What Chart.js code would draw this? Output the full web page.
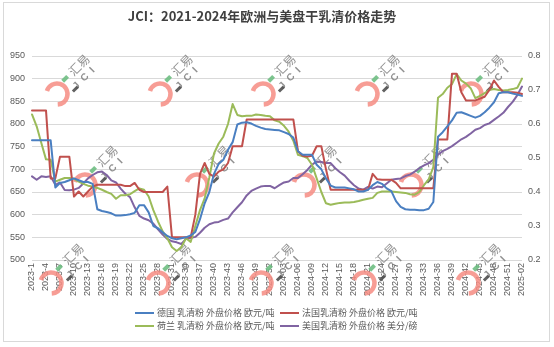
<!DOCTYPE html>
<html><head><meta charset="utf-8">
<script src="https://cdn.jsdelivr.net/npm/chart.js@4/dist/chart.umd.min.js"></script>
<style>
html,body{margin:0;padding:0;background:#fff;}
#wrap{position:relative;width:554px;height:347px;overflow:hidden;}
#frame{position:absolute;left:3px;top:2px;width:545px;height:338px;border:1px solid #d9d9d9;pointer-events:none;}
canvas{position:absolute;left:0;top:0;}
</style></head><body>
<div id="wrap"><canvas id="c" width="554" height="347"></canvas><div id="frame"></div></div>
<script>
const titleText = 'JCI：2021-2024年欧洲与美盘干乳清价格走势';
const categories = [
"2023-1","2023-2","2023-3","2023-4","2023-5","2023-6","2023-7","2023-8","2023-9","2023-10",
"2023-11","2023-12","2023-13","2023-14","2023-15","2023-16","2023-17","2023-18","2023-19","2023-20",
"2023-21","2023-22","2023-23","2023-24","2023-25","2023-26","2023-27","2023-28","2023-29","2023-30",
"2023-31","2023-32","2023-33","2023-34","2023-35","2023-36","2023-37","2023-38","2023-39","2023-40",
"2023-41","2023-42","2023-43","2023-44","2023-45","2023-46","2023-47","2023-48","2023-49","2023-50",
"2023-51","2023-52","2024-01","2024-02","2024-03","2024-04","2024-05","2024-06","2024-07","2024-08",
"2024-09","2024-10","2024-11","2024-12","2024-13","2024-14","2024-15","2024-16","2024-17","2024-18",
"2024-19","2024-20","2024-21","2024-22","2024-23","2024-24","2024-25","2024-26","2024-27","2024-28",
"2024-29","2024-30","2024-31","2024-32","2024-33","2024-34","2024-35","2024-36","2024-37","2024-38",
"2024-39","2024-40","2024-41","2024-42","2024-43","2024-44","2024-45","2024-46","2024-47","2024-48",
"2024-49","2024-50","2024-51","2024-52","2025-01","2025-02"];
const seriesNames = ['德国 乳清粉 外盘价格 欧元/吨','法国乳清粉 外盘价格 欧元/吨','荷兰 乳清粉 外盘价格 欧元/吨','美国乳清粉 外盘价格 美分/磅'];
const germany = [764,764,764,764,764, 660,670,672,676,680, 676,672,672,668,612, 608,606,603,598,598,
 599,601,604,621,621, 605,575,570,561,553, 548,546,548,550,554, 562,590,625,650,690,
 712,721,743,760,799, 803,804,801,796,792, 789,788,787,786,782, 778,770,740,732,732,
 732,710,700,680,664, 660,660,660,658,656, 651,651,655,665,672, 668,658,652,630,617,
 612,611,611,610,610, 613,628,772,782,795, 808,825,826,822,818, 814,818,826,836,848,
 868,870,870,867,865, 862];
const france = [830,830,830,830,680, 680,728,728,728,640, 651,640,651,662,666, 666,666,666,666,666,
 663,663,670,655,650, 650,650,650,650,662, 550,550,550,550,550, 600,690,714,690,684,
 695,700,714,751,751, 751,810,810,810,810, 810,810,810,810,810, 810,810,740,730,728,
 730,751,751,700,655, 655,655,655,655,655, 655,655,655,690,678, 677,677,677,670,658,
 658,658,658,658,658, 658,658,766,766,766, 911,911,870,852,852, 852,856,860,875,896,
 882,870,870,870,869, 866];
const netherlands = [821,795,758,722,721, 673,677,681,681,679, 673,668,664,662,659, 655,650,646,635,643,
 643,645,652,658,655, 640,610,585,563,548, 528,520,528,548,540, 575,610,636,682,735,
 757,772,800,844,820, 817,818,818,821,820, 818,817,808,805,796, 783,763,732,729,725,
 710,680,650,625,622, 624,626,627,627,628, 630,633,635,637,648, 651,651,651,650,649,
 648,645,644,650,665, 678,705,858,866,880, 888,910,896,889,879, 857,862,868,875,877,
 875,874,875,877,880, 900];
const usa = [0.446,0.436,0.446,0.444,0.446, 0.421,0.428,0.406,0.405,0.407, 0.412,0.425,0.44,0.45,0.458,
 0.46,0.45,0.434,0.428,0.41, 0.395,0.385,0.355,0.33,0.322, 0.317,0.307,0.29,0.275,0.262,
 0.255,0.252,0.247,0.262,0.265, 0.268,0.28,0.295,0.305,0.31, 0.312,0.318,0.322,0.34,0.355,
 0.37,0.39,0.403,0.41,0.416, 0.418,0.418,0.411,0.42,0.428, 0.431,0.441,0.441,0.452,0.465,
 0.48,0.49,0.488,0.485,0.485, 0.47,0.458,0.448,0.433,0.42, 0.41,0.407,0.415,0.41,0.416,
 0.414,0.425,0.436,0.438,0.44, 0.447,0.451,0.46,0.47,0.478, 0.485,0.495,0.51,0.52,0.527,
 0.535,0.545,0.555,0.562,0.572, 0.583,0.588,0.597,0.602,0.612, 0.622,0.633,0.65,0.665,0.685,
 0.71];
const leftTicks = [500,550,600,650,700,750,800,850,900,950];
const rightTicks = [0.2,0.3,0.4,0.5,0.6,0.7,0.8];
const colors = ['#4A7FC1','#C0504D','#9BBB59','#8064A2'];

const FONT = '"Noto Sans CJK SC", "Liberation Sans", sans-serif';
const TICKFONT = '"Liberation Sans", "DejaVu Sans", sans-serif';

const titlePlugin = {
  id: 'customTitle',
  afterDraw(chart) {
    const c = chart.ctx; c.save();
    c.font = 'bold 13px ' + FONT; c.fillStyle = '#404040';
    c.textAlign = 'center'; c.textBaseline = 'middle';
    c.fillText(titleText, 262, 16);
    c.restore();
  }
};

const legendPlugin = {
  id: 'customLegend',
  afterDraw(chart) {
    const c = chart.ctx; c.save();
    const pos = [[135,313],[280,313],[135,326],[280,326]];
    chart.data.datasets.forEach((ds, i) => {
      const [x, y] = pos[i];
      c.strokeStyle = ds.borderColor; c.lineWidth = 2;
      c.beginPath(); c.moveTo(x, y); c.lineTo(x + 19, y); c.stroke();
      c.font = '9px ' + FONT; c.fillStyle = '#595959';
      c.textAlign = 'left'; c.textBaseline = 'middle';
      c.fillText(ds.label, x + 22, y);
    });
    c.restore();
  }
};

const logoSpots = [[57,94],[160,94],[263,94],[367,94],[471,94],
                   [85,185],[197,185],[304,185],[411,185],
                   [51,283],[158,283],[261,283],[364,283],[468,283]];
const watermarkPlugin = {
  id: 'watermark',
  beforeDatasetsDraw(chart) {
    const c = chart.ctx;
    logoSpots.forEach(([x, y]) => {
      c.save();
      c.strokeStyle = 'rgba(246,140,130,0.85)'; c.lineWidth = 4.5; c.lineCap = 'butt';
      c.beginPath(); c.arc(x, y, 10.5, -2.85, 1.5); c.stroke();
      c.translate(x, y);
      c.rotate(-Math.PI / 4);
      c.fillStyle = 'rgba(125,125,125,0.85)';
      c.textAlign = 'center'; c.textBaseline = 'middle';
      c.font = '12px ' + FONT;
      c.fillText('汇易', 36, -5);
      c.font = 'bold 10px ' + TICKFONT;
      c.fillText('J  C  I', 30, 8);
      c.fillStyle = 'rgba(110,190,130,0.9)';
      c.fillRect(13, -7, 7, 4);
      c.fillStyle = 'rgba(80,80,80,0.9)';
      c.fillRect(13, 8, 7, 3);
      c.restore();
    });
  }
};

new Chart(document.getElementById('c'), {
  type: 'line',
  data: {
    labels: categories,
    datasets: [
      {label: seriesNames[0], data: germany, borderColor: colors[0], yAxisID: 'y'},
      {label: seriesNames[1], data: france, borderColor: colors[1], yAxisID: 'y'},
      {label: seriesNames[2], data: netherlands, borderColor: colors[2], yAxisID: 'y'},
      {label: seriesNames[3], data: usa, borderColor: colors[3], yAxisID: 'y1'}
    ]
  },
  options: {
    responsive: false, animation: false, devicePixelRatio: 1,
    elements: {point: {radius: 0}, line: {borderWidth: 2, tension: 0, borderJoinStyle: 'round', borderCapStyle: 'round', fill: false}},
    layout: {padding: {left: 0, right: 0, top: 56, bottom: 0}},
    plugins: {legend: {display: false}, title: {display: false}, tooltip: {enabled: false}},
    scales: {
      x: {
        type: 'category', offset: false,
        grid: {display: false, drawTicks: false}, border: {display: false},
        ticks: {autoSkip: false, maxRotation: 90, minRotation: 90, padding: 3,
          font: {size: 9, family: TICKFONT}, color: '#595959',
          callback: (v, i) => (i % 3 === 0 ? categories[i] : null)},
        afterFit: s => { s.height = 87; }
      },
      y: {
        position: 'left', min: 500, max: 950,
        afterBuildTicks: s => { s.ticks = leftTicks.map(v => ({value: v})); },
        ticks: {padding: 7, font: {size: 9, family: TICKFONT}, color: '#595959'},
        grid: {color: '#d9d9d9', drawTicks: false, lineWidth: 1}, border: {display: false},
        afterFit: s => { s.width = 32; }
      },
      y1: {
        position: 'right', min: 0.2, max: 0.8,
        afterBuildTicks: s => { s.ticks = rightTicks.map(v => ({value: v})); },
        ticks: {padding: 6, font: {size: 9, family: TICKFONT}, color: '#595959', callback: v => Number(v).toFixed(1)},
        grid: {display: false, drawTicks: false}, border: {display: false},
        afterFit: s => { s.width = 32; }
      }
    }
  },
  plugins: [watermarkPlugin, titlePlugin, legendPlugin]
});
</script>
</body></html>
